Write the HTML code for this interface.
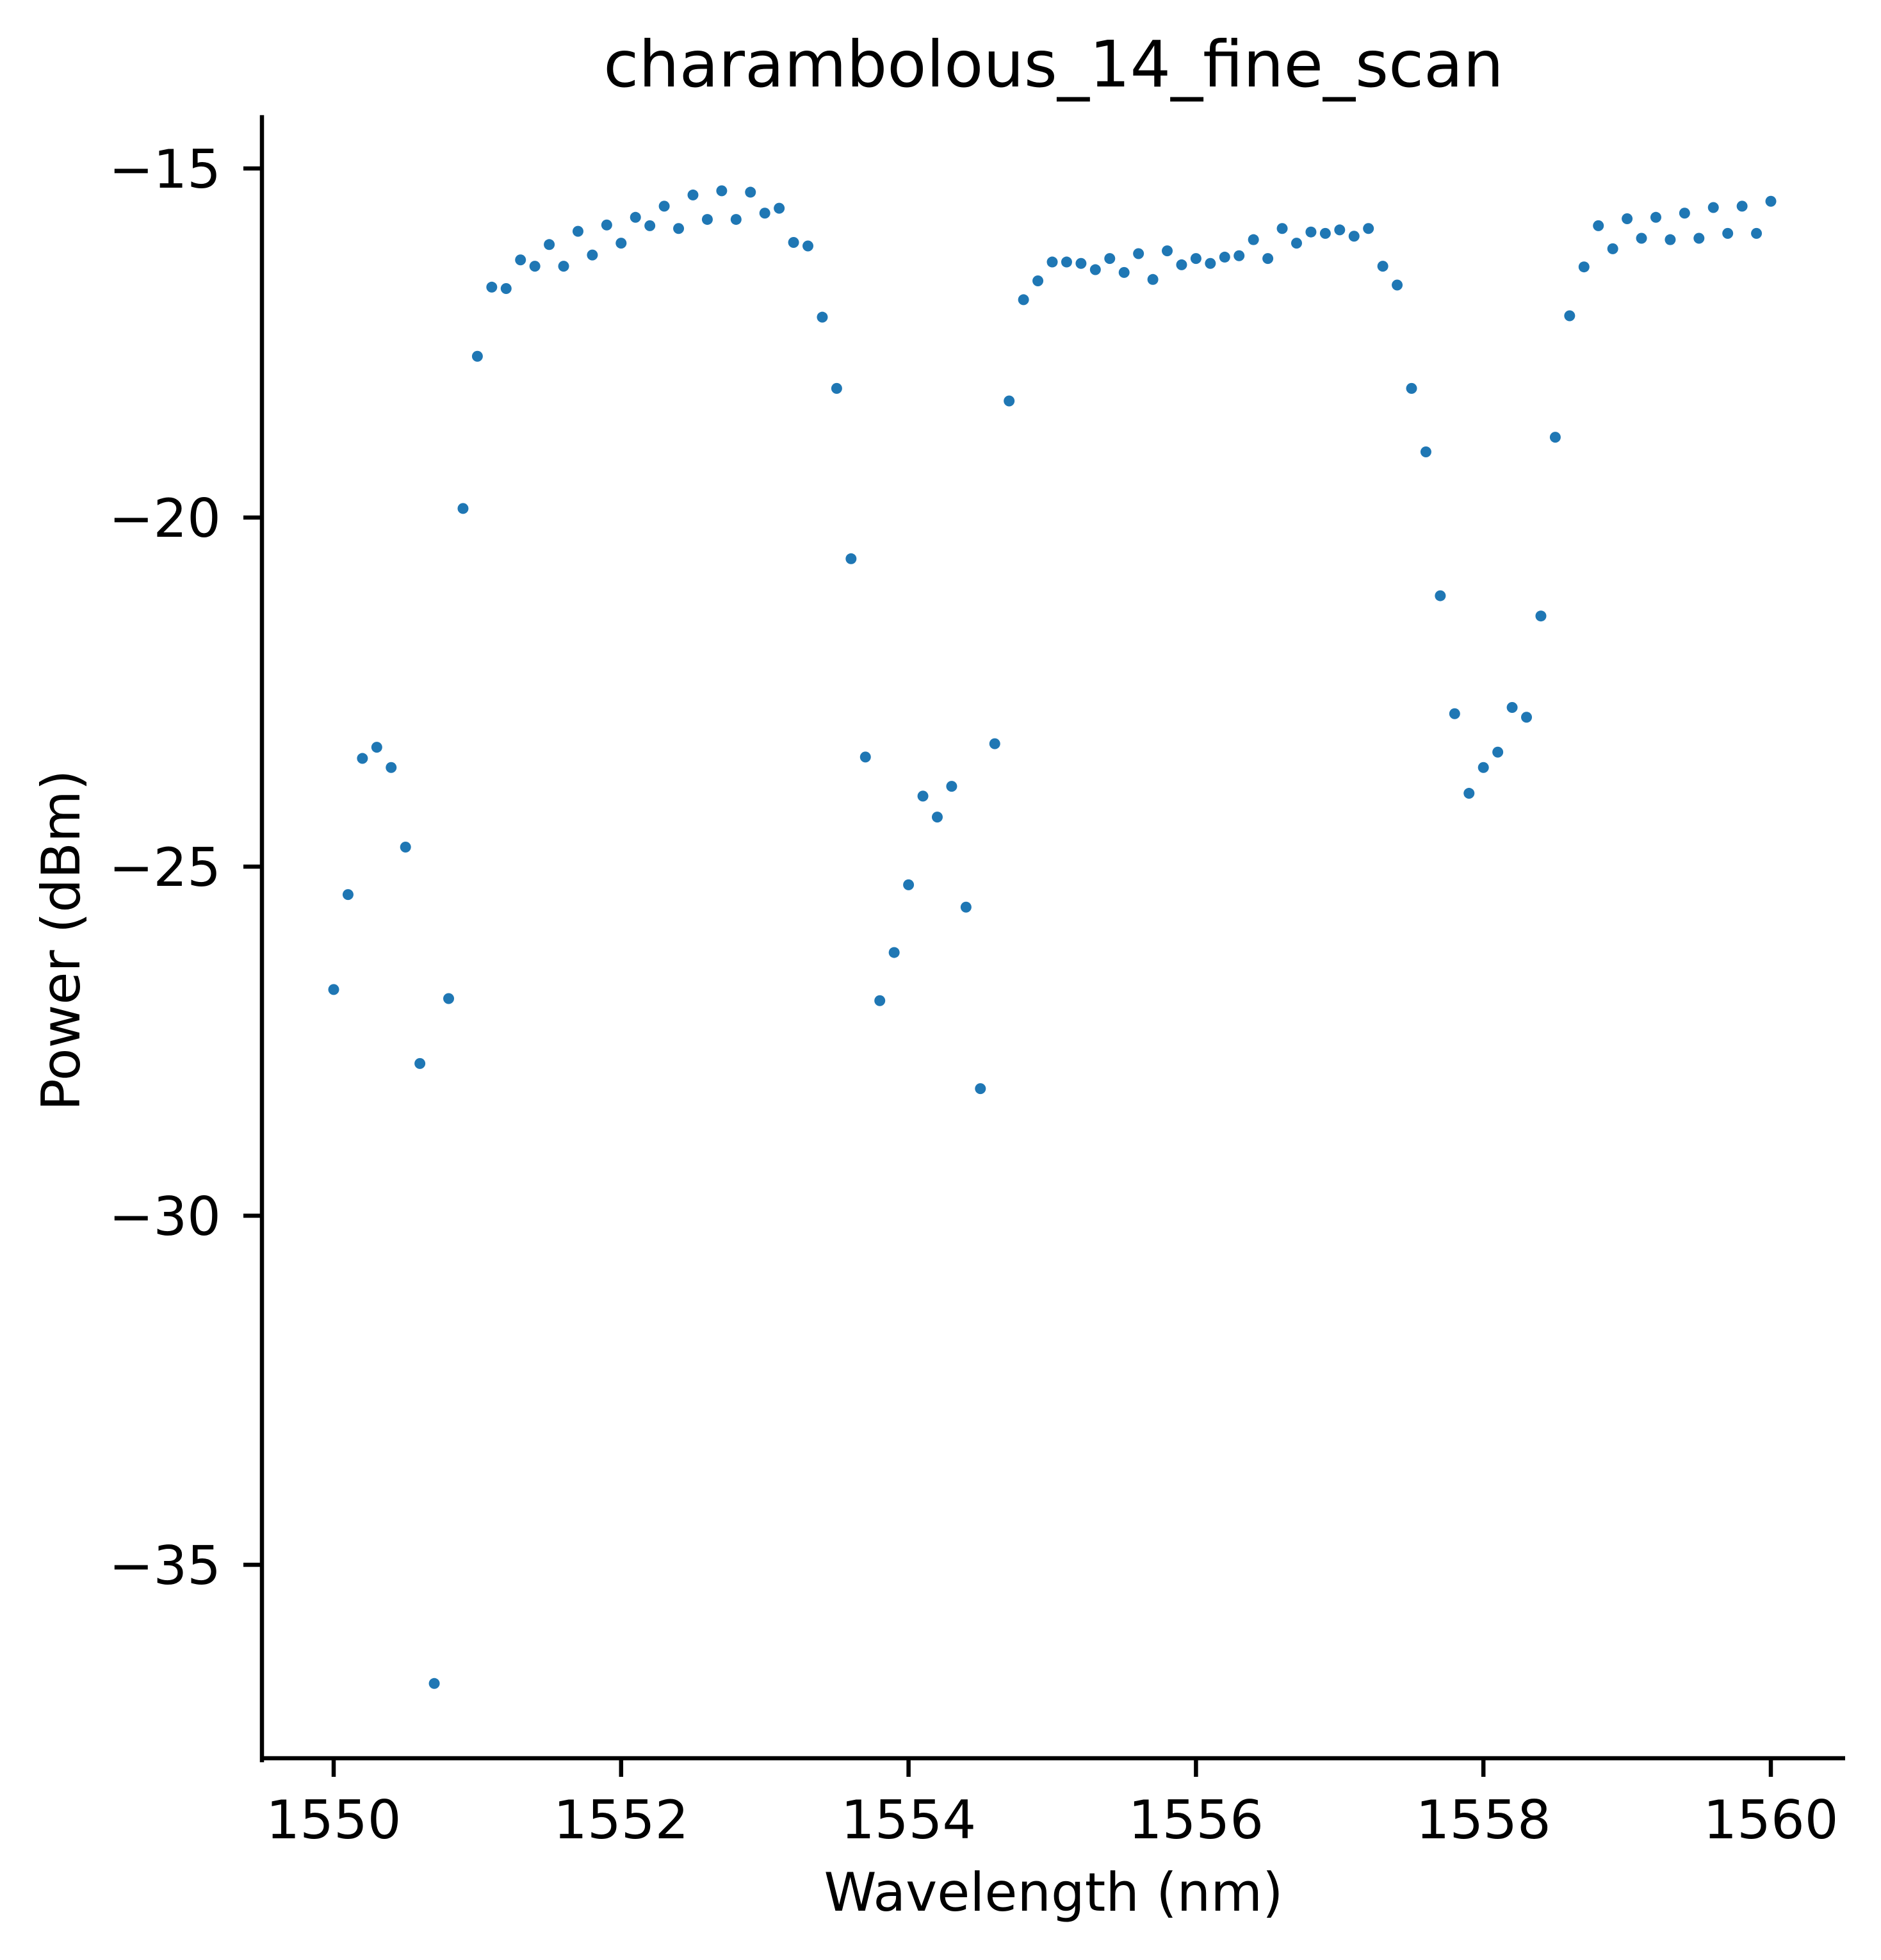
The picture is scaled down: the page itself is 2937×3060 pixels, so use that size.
<!DOCTYPE html>
<html><head><meta charset="utf-8"><style>
html,body{margin:0;padding:0;background:#fff}
svg{display:block}
text{font-family:"DejaVu Sans","Liberation Sans",sans-serif;fill:#000}
</style></head><body>
<svg id="chart" width="2937" height="3060" viewBox="0 0 2937 3060" xmlns="http://www.w3.org/2000/svg">
<rect width="2937" height="3060" fill="#fff"/>
<text x="1645" y="135" font-size="100" text-anchor="middle">charambolous_14_fine_scan</text>
<g id="points"></g>
<g id="axes">
<line x1="409" y1="183" x2="409" y2="2748" stroke="#000" stroke-width="6.5" stroke-linecap="square"/>
<line x1="406" y1="2745" x2="2881" y2="2745" stroke="#000" stroke-width="6.5"/>
</g>
<text x="1645" y="2983" font-size="83" text-anchor="middle">Wavelength (nm)</text>
<text transform="translate(124,1468) rotate(-90)" font-size="83" text-anchor="middle">Power (dBm)</text>
</svg>
<script>
const wavelengths = [];
for (let i = 0; i <= 100; i++) wavelengths.push(1550 + i * 0.1);
const powers = [-26.76,-25.40,-23.45,-23.29,-23.58,-24.72,-27.82,-36.70,-26.89,-19.87,
-17.69,-16.70,-16.72,-16.31,-16.40,-16.09,-16.40,-15.90,-16.24,-15.81,
-16.07,-15.70,-15.82,-15.54,-15.86,-15.38,-15.73,-15.32,-15.73,-15.34,
-15.64,-15.57,-16.06,-16.11,-17.13,-18.15,-20.59,-23.43,-26.92,-26.23,
-25.26,-23.99,-24.29,-23.85,-25.58,-28.18,-23.24,-18.33,-16.88,-16.61,
-16.34,-16.34,-16.36,-16.45,-16.29,-16.49,-16.22,-16.59,-16.18,-16.38,
-16.29,-16.36,-16.27,-16.25,-16.02,-16.29,-15.86,-16.07,-15.91,-15.93,
-15.88,-15.97,-15.86,-16.40,-16.67,-18.15,-19.06,-21.12,-22.81,-23.95,
-23.58,-23.36,-22.72,-22.86,-21.41,-18.85,-17.11,-16.41,-15.82,-16.15,
-15.72,-16.00,-15.70,-16.02,-15.64,-16.00,-15.56,-15.93,-15.54,-15.93,-15.47];
const xTicks = [1550,1552,1554,1556,1558,1560];
const yTicks = [-15,-20,-25,-30,-35];

const NS = "http://www.w3.org/2000/svg";
function xs(v){ return 521 + (v - 1550) * 224.4; }
function ys(v){ return 263 + (-15 - v) * 109.0; }

const pts = document.getElementById('points');
for (let i = 0; i < powers.length; i++) {
  const c = document.createElementNS(NS, 'circle');
  c.setAttribute('cx', xs(wavelengths[i]));
  c.setAttribute('cy', ys(powers[i]));
  c.setAttribute('r', 8.5);
  c.setAttribute('fill', '#1f77b4');
  
  
  pts.appendChild(c);
}
const axes = document.getElementById('axes');
xTicks.forEach(t => {
  const l = document.createElementNS(NS, 'line');
  l.setAttribute('x1', xs(t)); l.setAttribute('x2', xs(t));
  l.setAttribute('y1', 2745); l.setAttribute('y2', 2774);
  l.setAttribute('stroke', '#000'); l.setAttribute('stroke-width', 6.5);
  
  
  axes.appendChild(l);
  const tx = document.createElementNS(NS, 'text');
  tx.setAttribute('x', xs(t)); tx.setAttribute('y', 2870);
  tx.setAttribute('font-size', 83); tx.setAttribute('text-anchor', 'middle');
  tx.textContent = t;
  
  
  axes.appendChild(tx);
});
yTicks.forEach(t => {
  const l = document.createElementNS(NS, 'line');
  l.setAttribute('x1', 380); l.setAttribute('x2', 409);
  l.setAttribute('y1', ys(t)); l.setAttribute('y2', ys(t));
  l.setAttribute('stroke', '#000'); l.setAttribute('stroke-width', 6.5);
  
  
  axes.appendChild(l);
  const tx = document.createElementNS(NS, 'text');
  tx.setAttribute('x', 345); tx.setAttribute('y', ys(t) + 30);
  tx.setAttribute('font-size', 83); tx.setAttribute('text-anchor', 'end');
  tx.textContent = '\u2212' + Math.abs(t);
  
  
  axes.appendChild(tx);
});
</script>
</body></html>
